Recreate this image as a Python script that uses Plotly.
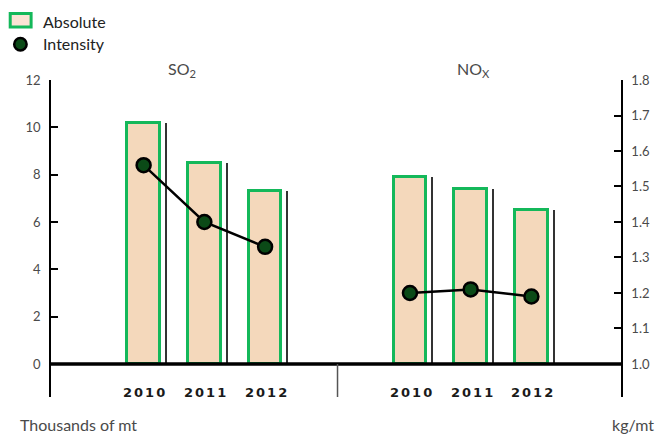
import plotly.graph_objects as go

# ---- data -------------------------------------------------------------
years = ["2010", "2011", "2012"]
pollutants = ["SO<sub>2</sub>", "NO<sub>X</sub>"]
absolute_so2 = [10.2, 8.5, 7.3]      # thousands of mt
absolute_nox = [7.9, 7.4, 6.5]
intensity_so2 = [1.56, 1.40, 1.33]   # kg/mt
intensity_nox = [1.20, 1.21, 1.19]

left_ticks = [0, 2, 4, 6, 8, 10, 12]
right_ticks = [1.0, 1.1, 1.2, 1.3, 1.4, 1.5, 1.6, 1.7, 1.8]

# ---- layout helpers ---------------------------------------------------
W, H = 662, 437
ML, MR, MT, MB = 51, 38, 80, 40
PW, PH = W - ML - MR, H - MT - MB

group_start = [0.0, 4.385]
X_RANGE = [-1.525, 7.86]
Y1_RANGE = [-1.394, 12]
Y2_RANGE = [0.907, 1.8]

def px(xp):
    return (xp - ML) / PW

def py(yp):
    return (H - MB - yp) / PH

FILL = "#f4d8bb"
GREEN = "#14b85a"
DOT = "#0b4a17"
TXT = "#4a4a4a"
FONT = "Lato, 'Open Sans', sans-serif"
YEAR_FONT = "'DejaVu Sans', sans-serif"

groups = [(absolute_so2, intensity_so2), (absolute_nox, intensity_nox)]

fig = go.Figure()
for g, (absv, intv) in enumerate(groups):
    xs = [group_start[g] + i for i in range(len(years))]
    # thin dark rule beside each bar
    fig.add_trace(go.Bar(
        x=xs, y=absv, width=0.025, offset=0.36,
        marker=dict(color="#333333", line=dict(width=0)),
        showlegend=False, hoverinfo="skip", yaxis="y"))
    # main bars
    fig.add_trace(go.Bar(
        x=xs, y=absv, width=0.54,
        marker=dict(color=FILL, line=dict(color=GREEN, width=3)),
        name="Absolute", showlegend=False, yaxis="y"))
    # intensity line
    fig.add_trace(go.Scatter(
        x=xs, y=intv, mode="lines+markers", yaxis="y2",
        line=dict(color="black", width=2.5),
        marker=dict(size=14, color=DOT, line=dict(color="black", width=2.5)),
        name="Intensity", showlegend=False))

shapes = []
annotations = []

def label(x, y, text, xref="paper", xanchor="center", size=16, color=TXT, family=FONT):
    annotations.append(dict(x=x, y=y, xref=xref, yref="paper", xanchor=xanchor,
                            yanchor="middle", text=text, showarrow=False,
                            font=dict(family=family, size=size, color=color)))

# baseline and group separator
shapes.append(dict(type="line", xref="paper", yref="y", x0=0, x1=1, y0=0, y1=0,
                   line=dict(color="black", width=3.5)))
sep_x = (group_start[0] + len(years) - 1 + group_start[1]) / 2
shapes.append(dict(type="line", xref="x", yref="paper", x0=sep_x, x1=sep_x,
                   y0=0, y1=py(364), line=dict(color="#555555", width=1.5)))

# year labels and pollutant titles
title_shift = [0.64, 1.04]
for g, name in enumerate(pollutants):
    for i, yr in enumerate(years):
        label(group_start[g] + i + 0.03, py(392),
              f'<span style="letter-spacing:2px;font-weight:600">{yr}</span>', xref="x",
              size=13, color="#1a1a1a", family=YEAR_FONT)
    label(group_start[g] + title_shift[g], py(70), name, xref="x", size=16)

# axis captions
label(px(18), py(424), "Thousands of mt", xanchor="left", size=16)
label(px(659), py(424), "kg/mt", xanchor="right", size=16)

# legend
shapes.append(dict(type="rect", xref="paper", yref="paper",
                   x0=px(10), x1=px(31), y0=py(27), y1=py(13.5),
                   fillcolor="#fbe3d4", line=dict(color=GREEN, width=3)))
shapes.append(dict(type="circle", xref="paper", yref="paper",
                   x0=px(14), x1=px(26.5), y0=py(50.5), y1=py(38),
                   fillcolor=DOT, line=dict(color="black", width=2.5)))
label(px(41), py(21), "Absolute", xanchor="left", size=16, color="#222222")
label(px(41), py(43), "Intensity", xanchor="left", size=16, color="#222222")

fig.update_layout(
    width=W, height=H,
    margin=dict(l=ML, r=MR, t=MT, b=MB, pad=0),
    paper_bgcolor="white", plot_bgcolor="white",
    barmode="overlay", bargap=0,
    showlegend=False,
    xaxis=dict(range=X_RANGE, visible=False, fixedrange=True),
    yaxis=dict(range=Y1_RANGE, tickvals=left_ticks, ticktext=[str(v) for v in left_ticks],
               showline=True, linecolor="black", linewidth=1.5,
               ticks="inside", ticklen=7, tickwidth=1.5, tickcolor="black",
               showgrid=False, zeroline=False, ticklabelstandoff=6,
               tickfont=dict(family=FONT, size=13, color=TXT)),
    yaxis2=dict(range=Y2_RANGE, overlaying="y", side="right",
                tickvals=right_ticks, ticktext=[f"{v:.1f}" for v in right_ticks],
                showline=True, linecolor="black", linewidth=1.5,
                ticks="inside", ticklen=7, tickwidth=1.5, tickcolor="black",
                showgrid=False, zeroline=False, ticklabelstandoff=6,
                tickfont=dict(family=FONT, size=13, color=TXT)),
    shapes=shapes,
    annotations=annotations,
)

fig.write_html("out.html")
